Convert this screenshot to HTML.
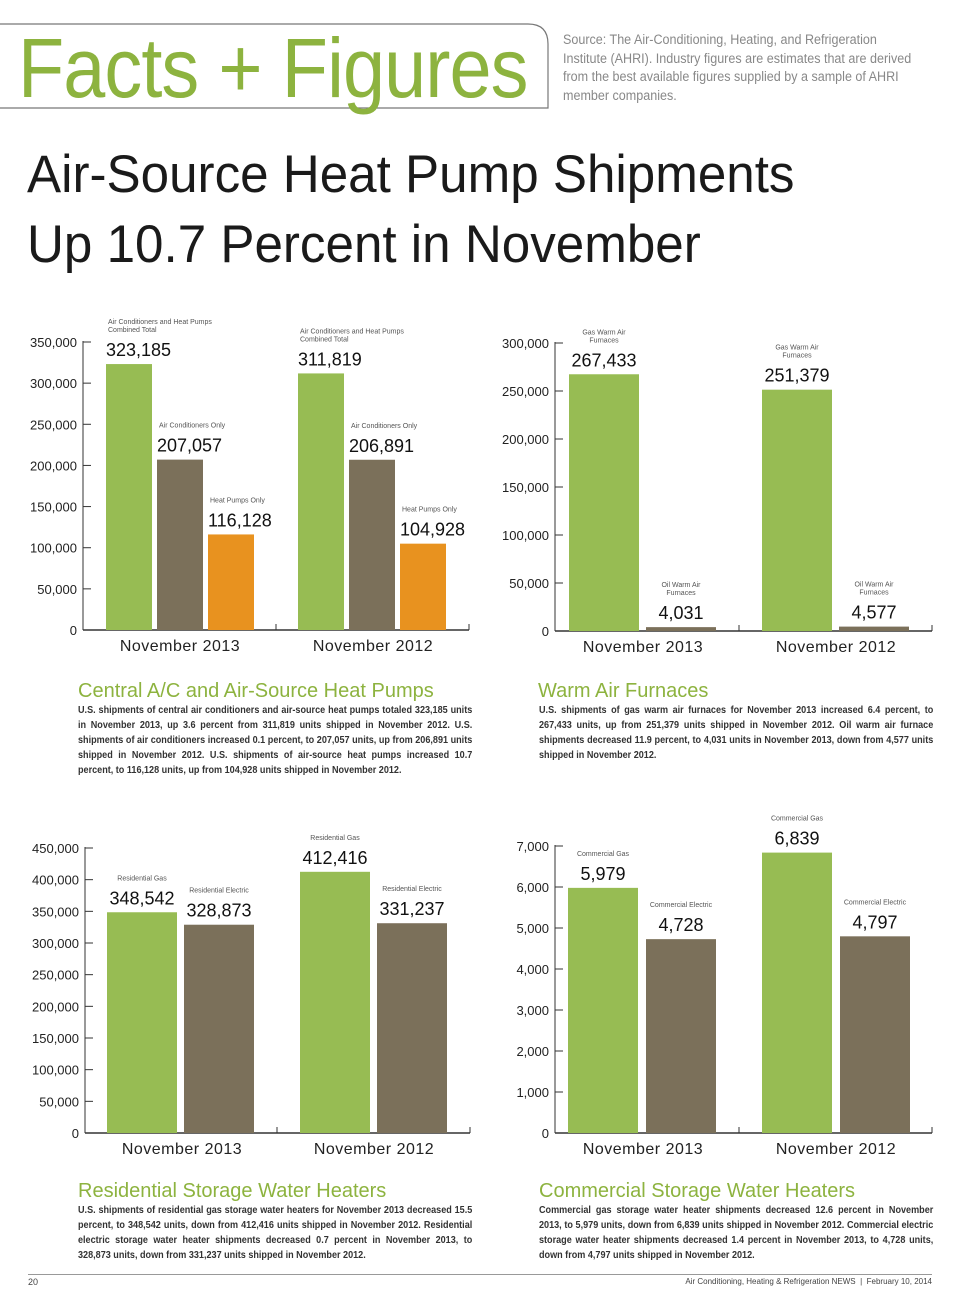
<!DOCTYPE html>
<html><head><meta charset="utf-8">
<style>
body{margin:0;background:#fff;width:960px;height:1303px;position:relative;overflow:hidden;font-family:"Liberation Sans",sans-serif}
.abs{position:absolute}
.sec-title{position:absolute;color:#8db33f;font-size:20px;white-space:nowrap}
.body-text{position:absolute;font-size:10.2px;line-height:15px;font-weight:bold;color:#333;text-align:justify;transform:scaleX(0.89);transform-origin:left top}
</style></head><body>
<svg class="abs" style="left:0;top:0" width="960" height="130">
<path d="M0 24 H528 Q548 24 548 44 V108 H0" fill="none" stroke="#777" stroke-width="1.2"/>
</svg>
<div class="abs" style="left:18px;top:18px;font-size:84px;color:#8db33f;letter-spacing:-1px;line-height:100px;transform:scaleX(0.9);transform-origin:left top">Facts + Figures</div>
<div class="abs" style="left:563px;top:31px;width:378px;font-size:13.5px;line-height:18.5px;color:#888;transform:scaleX(0.93);transform-origin:left top">Source: The Air-Conditioning, Heating, and Refrigeration Institute (AHRI). Industry figures are estimates that are derived from the best available figures supplied by a sample of AHRI member companies.</div>
<div class="abs" style="left:27px;top:140px;font-size:53px;line-height:70px;color:#1a1a1a;white-space:nowrap;transform:scaleX(0.965);transform-origin:left top">Air-Source Heat Pump Shipments<br>Up 10.7 Percent in November</div>

<svg id="charts" class="abs" style="left:0;top:0" width="960" height="1303"></svg>

<div class="sec-title" style="left:78px;top:680px">Central A/C and Air-Source Heat Pumps</div>
<div class="body-text" style="left:78px;top:703px;width:443px">U.S. shipments of central air conditioners and air-source heat pumps totaled 323,185 units in November 2013, up 3.6 percent from 311,819 units shipped in November 2012. U.S. shipments of air conditioners increased 0.1 percent, to 207,057 units, up from 206,891 units shipped in November 2012. U.S. shipments of air-source heat pumps increased 10.7 percent, to 116,128 units, up from 104,928 units shipped in November 2012.</div>
<div class="sec-title" style="left:538px;top:680px">Warm Air Furnaces</div>
<div class="body-text" style="left:539px;top:703px;width:443px">U.S. shipments of gas warm air furnaces for November 2013 increased 6.4 percent, to 267,433 units, up from 251,379 units shipped in November 2012. Oil warm air furnace shipments decreased 11.9 percent, to 4,031 units in November 2013, down from 4,577 units shipped in November 2012.</div>
<div class="sec-title" style="left:78px;top:1180px">Residential Storage Water Heaters</div>
<div class="body-text" style="left:78px;top:1203px;width:443px">U.S. shipments of residential gas storage water heaters for November 2013 decreased 15.5 percent, to 348,542 units, down from 412,416 units shipped in November 2012. Residential electric storage water heater shipments decreased 0.7 percent in November 2013, to 328,873 units, down from 331,237 units shipped in November 2012.</div>
<div class="sec-title" style="left:539px;top:1180px">Commercial Storage Water Heaters</div>
<div class="body-text" style="left:539px;top:1203px;width:443px">Commercial gas storage water heater shipments decreased 12.6 percent in November 2013, to 5,979 units, down from 6,839 units shipped in November 2012. Commercial electric storage water heater shipments decreased 1.4 percent in November 2013, to 4,728 units, down from 4,797 units shipped in November 2012.</div>

<div class="abs" style="left:28px;top:1274px;width:904px;border-top:1px solid #999"></div>
<div class="abs" style="left:28px;top:1277px;font-size:9px;color:#444">20</div>
<div class="abs" style="right:28px;top:1277px;font-size:8px;color:#444">Air Conditioning, Heating &amp; Refrigeration NEWS &nbsp;|&nbsp; February 10, 2014</div>

<script>
const categories = ["November 2013", "November 2012"];
const acSeriesNames = [["Air Conditioners and Heat Pumps","Combined Total"],["Air Conditioners Only"],["Heat Pumps Only"]];
const acValues2013 = [323185, 207057, 116128];
const acValues2012 = [311819, 206891, 104928];
const acTicks = [0,50000,100000,150000,200000,250000,300000,350000];
const furnSeriesNames = [["Gas Warm Air","Furnaces"],["Oil Warm Air","Furnaces"]];
const furnValues2013 = [267433, 4031];
const furnValues2012 = [251379, 4577];
const furnTicks = [0,50000,100000,150000,200000,250000,300000];
const resSeriesNames = [["Residential Gas"],["Residential Electric"]];
const resValues2013 = [348542, 328873];
const resValues2012 = [412416, 331237];
const resTicks = [0,50000,100000,150000,200000,250000,300000,350000,400000,450000];
const comSeriesNames = [["Commercial Gas"],["Commercial Electric"]];
const comValues2013 = [5979, 4728];
const comValues2012 = [6839, 4797];
const comTicks = [0,1000,2000,3000,4000,5000,6000,7000];

const svg = document.getElementById('charts');
const NS = 'http://www.w3.org/2000/svg';
const colors = ['#97bc53','#7b705a','#e8921f'];
function mk(tag, attrs, text){const e=document.createElementNS(NS,tag);for(const k in attrs)e.setAttribute(k,attrs[k]);if(text!==undefined)e.textContent=text;svg.appendChild(e);return e;}
const fmt = v => v.toLocaleString('en-US');

function chart(o){
  const y = v => o.base - (v/o.tickMax)*(o.base-o.top);
  const maxT = o.ticks[o.ticks.length-1];
  o.tickMax = maxT;
  let ax = mk('line',{x1:o.ax,y1:o.top-1,x2:o.ax,y2:o.base,stroke:'#333','stroke-width':1});
  
  
  let bl = mk('line',{x1:o.ax,y1:o.base,x2:o.end,y2:o.base,stroke:'#333','stroke-width':1.5});
  
  
  [o.mid,o.end].forEach(x=>mk('line',{x1:x,y1:o.base-6,x2:x,y2:o.base,stroke:'#333'}));
  o.ticks.forEach(t=>{
    mk('line',{x1:o.ax,y1:y(t),x2:o.ax+8,y2:y(t),stroke:'#333'});
    const tl = mk('text',{x:o.ax-6,y:y(t)+5,'text-anchor':'end','font-size':13,fill:'#222'},fmt(t));
    
    
  });
  categories.forEach((c,gi)=>{
    const vals = o.values[gi];
    vals.forEach((v,i)=>{
      const x = o.groupX[gi] + i*(o.bw+o.gap);
      const top = y(v);
      const r = mk('rect',{x:x,y:top,width:o.bw,height:o.base-top,fill:colors[i]});
      
      
      const cx = o.center ? x+o.bw/2 : x;
      const anchor = o.center ? 'middle' : 'start';
      const vt = mk('text',{x:cx,y:top-8,'text-anchor':anchor,'font-size':18,fill:'#111'},fmt(v));
      
      
      const names = o.names[i];
      names.forEach((n,li)=>{
        const st = mk('text',{x:cx+(o.center?0:2),y:top-32-(names.length-1-li)*8,'text-anchor':anchor,'font-size':7,fill:'#555'},n);
        
        
      });
    });
    const ct = mk('text',{x:o.catX[gi],y:o.base+21,'text-anchor':'middle','font-size':16,fill:'#222','letter-spacing':'0.5'},c);
    
    
  });
}
chart({name:'central-ac',ax:83,top:342,base:630,end:469,mid:276,ticks:acTicks,values:[acValues2013,acValues2012],names:acSeriesNames,groupX:[106,298],bw:46,gap:5,catX:[180,373],center:false});
chart({name:'furnaces',ax:555,top:343,base:631,end:932,mid:739,ticks:furnTicks,values:[furnValues2013,furnValues2012],names:furnSeriesNames,groupX:[569,762],bw:70,gap:7,catX:[643,836],center:true});
chart({name:'residential',ax:85,top:848,base:1133,end:470,mid:277,ticks:resTicks,values:[resValues2013,resValues2012],names:resSeriesNames,groupX:[107,300],bw:70,gap:7,catX:[182,374],center:true});
chart({name:'commercial',ax:555,top:846,base:1133,end:932,mid:739,ticks:comTicks,values:[comValues2013,comValues2012],names:comSeriesNames,groupX:[568,762],bw:70,gap:8,catX:[643,836],center:true});
</script>
</body></html>
